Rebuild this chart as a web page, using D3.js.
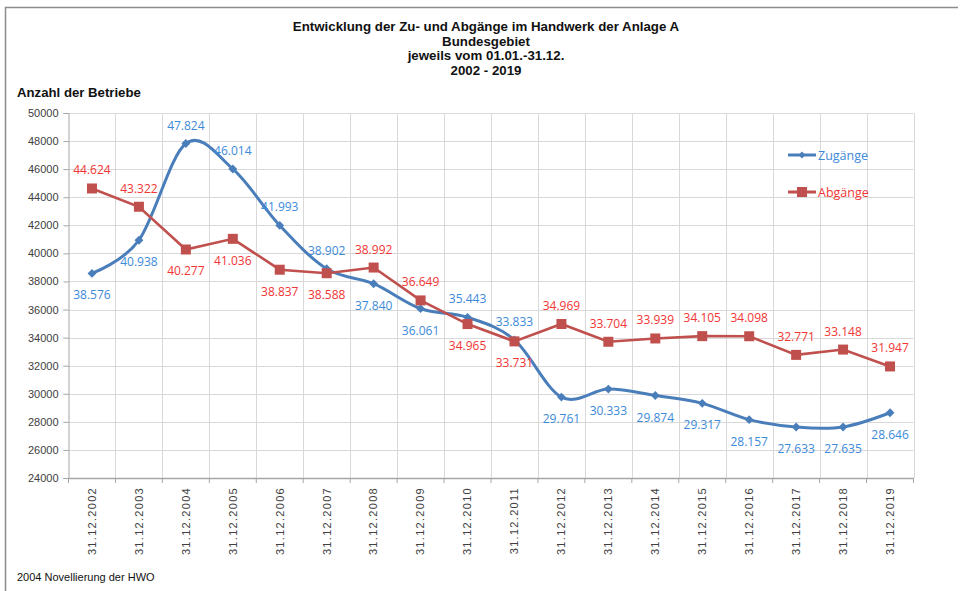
<!DOCTYPE html>
<html>
<head>
<meta charset="utf-8">
<script src="https://cdn.jsdelivr.net/npm/d3@7"></script>
<style>
	body { margin: 0; background: #fff; }
	svg { display: block; font-family: "Liberation Sans", Arial, sans-serif; }
	.grid line { stroke: #d9d9d9; stroke-width: 1; }
	.axis path, .axis line { stroke: #a6a6a6; }
	.axis text { fill: #404040; }
	.val { font-family: "Open Sans", sans-serif; font-size: 12px; text-anchor: middle; }
</style>
</head>
<body>
<div class="container"></div>
<script>

const years = ['2002', '2003', '2004', '2005', '2006', '2007', '2008', '2009', '2010',
	'2011', '2012', '2013', '2014', '2015', '2016', '2017', '2018', '2019'];
const categories = years.map((year) => `31.12.${ year }`);

const zugaenge = [38576, 40938, 47824, 46014, 41993, 38902, 37840, 36061, 35443,
	33833, 29761, 30333, 29874, 29317, 28157, 27633, 27635, 28646];
const abgaenge = [44624, 43322, 40277, 41036, 38837, 38588, 38992, 36649, 34965,
	33731, 34969, 33704, 33939, 34105, 34098, 32771, 33148, 31947];

const yTicks = d3.range(24000, 50001, 2000);

const titleLines = ['Entwicklung der Zu- und Abgänge im Handwerk der Anlage A',
	'Bundesgebiet', 'jeweils  vom 01.01.-31.12.', '2002  - 2019'];

const width = 961, height = 591;
const plot = { left: 68.5, right: 913.5, top: 113, bottom: 478 };

const deFormat = d3.formatLocale({ decimal: ',', thousands: '.', grouping: [3], currency: ['', '€'] }).format(',d');

const svg = d3.select('.container')
	.append('svg')
		.attr('width', width)
		.attr('height', height);

// frame (top + left only visible)
svg.append('path')
	.attr('d', `M5.5,${ height } V7.5 H958`)
	.attr('fill', 'none')
	.attr('stroke', '#8c8c8c')
	.attr('stroke-width', 1.5);

svg.append('g')
	.selectAll('text')
	.data(titleLines)
		.enter()
	.append('text')
		.attr('x', 486)
		.attr('y', (d, i) => 31 + i * 14.7)
		.attr('text-anchor', 'middle')
		.attr('font-weight', 'bold')
		.attr('font-size', '13.3px')
		.attr('fill', '#111')
		.text((d) => d);

svg.append('text')
	.attr('x', 17).attr('y', 97)
	.attr('font-weight', 'bold').attr('font-size', '13.2px').attr('fill', '#111')
	.text('Anzahl der Betriebe');

svg.append('text')
	.attr('x', 17).attr('y', 581)
	.attr('font-size', '11px').attr('fill', '#111')
	.text('2004 Novellierung der HWO');

const x = d3.scaleBand()
	.domain(categories)
	.range([plot.left, plot.right]);

const y = d3.scaleLinear()
	.domain([24000, 50000])
	.range([plot.bottom, plot.top]);

const cx = (i) => x(categories[i]) + x.bandwidth() / 2;

// grid
const grid = svg.append('g').attr('class', 'grid');
grid.selectAll('line.h')
	.data(yTicks.slice(1))
		.enter()
	.append('line')
		.attr('x1', plot.left).attr('x2', plot.right)
		.attr('y1', (d) => Math.round(y(d)) + 0.5)
		.attr('y2', (d) => Math.round(y(d)) + 0.5);
grid.selectAll('line.v')
	.data(categories)
		.enter()
	.append('line')
		.attr('x1', (d) => Math.round(x(d) + x.bandwidth()) + 0.5)
		.attr('x2', (d) => Math.round(x(d) + x.bandwidth()) + 0.5)
		.attr('y1', plot.top).attr('y2', plot.bottom);

// y axis
svg.append('g')
	.attr('class', 'axis')
	.attr('transform', `translate(${ plot.left },0)`)
	.call(d3.axisLeft(y).tickValues(yTicks).tickFormat(d3.format('d')).tickSize(5).tickPadding(5))
	.call((g) => g.selectAll('text').attr('font-size', '11px').attr('font-family', '"Liberation Sans", Arial, sans-serif'));

// x axis
const xAxis = svg.append('g')
	.attr('class', 'axis')
	.attr('transform', `translate(0,${ plot.bottom })`)
	.call(d3.axisBottom(x).tickSize(0).tickPadding(0));
xAxis.select('.domain').attr('stroke-width', 1.5);
xAxis.selectAll('.tick text')
	.attr('font-size', '11px')
	.attr('font-family', '"Liberation Sans", Arial, sans-serif')
	.attr('letter-spacing', '1.3px')
	.attr('text-anchor', 'end')
	.attr('transform', 'rotate(-90)')
	.attr('x', -9)
	.attr('y', 0)
	.attr('dy', '0.35em');
xAxis.selectAll('line.sep')
	.data([categories[0], ...categories])
		.enter()
	.append('line')
		.attr('class', 'sep')
		.attr('stroke', '#a6a6a6')
		.attr('x1', (d, i) => i === 0 ? plot.left : x(d) + x.bandwidth())
		.attr('x2', (d, i) => i === 0 ? plot.left : x(d) + x.bandwidth())
		.attr('y1', 0).attr('y2', 5);

const blue = '#4a7ebb', red = '#c0504d';
const blueText = '#3d8ad8', redText = '#f23535';

// Zugänge – smoothed line
svg.append('path')
	.datum(zugaenge)
	.attr('fill', 'none')
	.attr('stroke', blue)
	.attr('stroke-width', 3)
	.attr('d', d3.line().x((d, i) => cx(i)).y((d) => y(d)).curve(d3.curveCatmullRom.alpha(0)));

// Abgänge – straight line
svg.append('path')
	.datum(abgaenge)
	.attr('fill', 'none')
	.attr('stroke', red)
	.attr('stroke-width', 2.6)
	.attr('d', d3.line().x((d, i) => cx(i)).y((d) => y(d)));

const diamond = d3.symbol().type(d3.symbolDiamond2).size(50);

svg.append('g')
	.selectAll('path')
	.data(zugaenge)
		.enter()
	.append('path')
		.attr('d', diamond)
		.attr('fill', blue)
		.attr('transform', (d, i) => `translate(${ cx(i) },${ y(d) })`);

svg.append('g')
	.selectAll('rect')
	.data(abgaenge)
		.enter()
	.append('rect')
		.attr('x', (d, i) => cx(i) - 5)
		.attr('y', (d) => y(d) - 5)
		.attr('width', 10).attr('height', 10)
		.attr('fill', red);

// value labels: the higher series gets its label above, the other below
svg.append('g')
	.selectAll('text')
	.data(zugaenge)
		.enter()
	.append('text')
		.attr('class', 'val')
		.attr('fill', blueText)
		.attr('x', (d, i) => cx(i))
		.attr('y', (d, i) => y(d) + (d > abgaenge[i] ? -14 : 26))
		.text((d) => deFormat(d));

svg.append('g')
	.selectAll('text')
	.data(abgaenge)
		.enter()
	.append('text')
		.attr('class', 'val')
		.attr('fill', redText)
		.attr('x', (d, i) => cx(i))
		.attr('y', (d, i) => y(d) + (d > zugaenge[i] ? -14 : 26))
		.text((d) => deFormat(d));

// legend
const legend = svg.append('g').attr('transform', 'translate(788,0)');
const series = [
	{ name: 'Zugänge', color: blue, text: blueText, y: 155 },
	{ name: 'Abgänge', color: red, text: redText, y: 192 }
];
legend.selectAll('line')
	.data(series)
		.enter()
	.append('line')
		.attr('x1', 0).attr('x2', 28)
		.attr('y1', (d) => d.y).attr('y2', (d) => d.y)
		.attr('stroke', (d) => d.color)
		.attr('stroke-width', 3);
legend.append('path')
	.attr('d', d3.symbol().type(d3.symbolDiamond2).size(30))
	.attr('fill', blue)
	.attr('transform', `translate(14,${ series[0].y })`);
legend.append('rect')
	.attr('x', 9).attr('y', series[1].y - 5)
	.attr('width', 10).attr('height', 10)
	.attr('fill', red);
legend.selectAll('text')
	.data(series)
		.enter()
	.append('text')
		.attr('x', 30)
		.attr('y', (d) => d.y + 4.5)
		.attr('font-family', '"Open Sans", sans-serif')
		.attr('font-size', '12.5px')
		.attr('fill', (d) => d.text)
		.text((d) => d.name);

</script>
</body>
</html>
